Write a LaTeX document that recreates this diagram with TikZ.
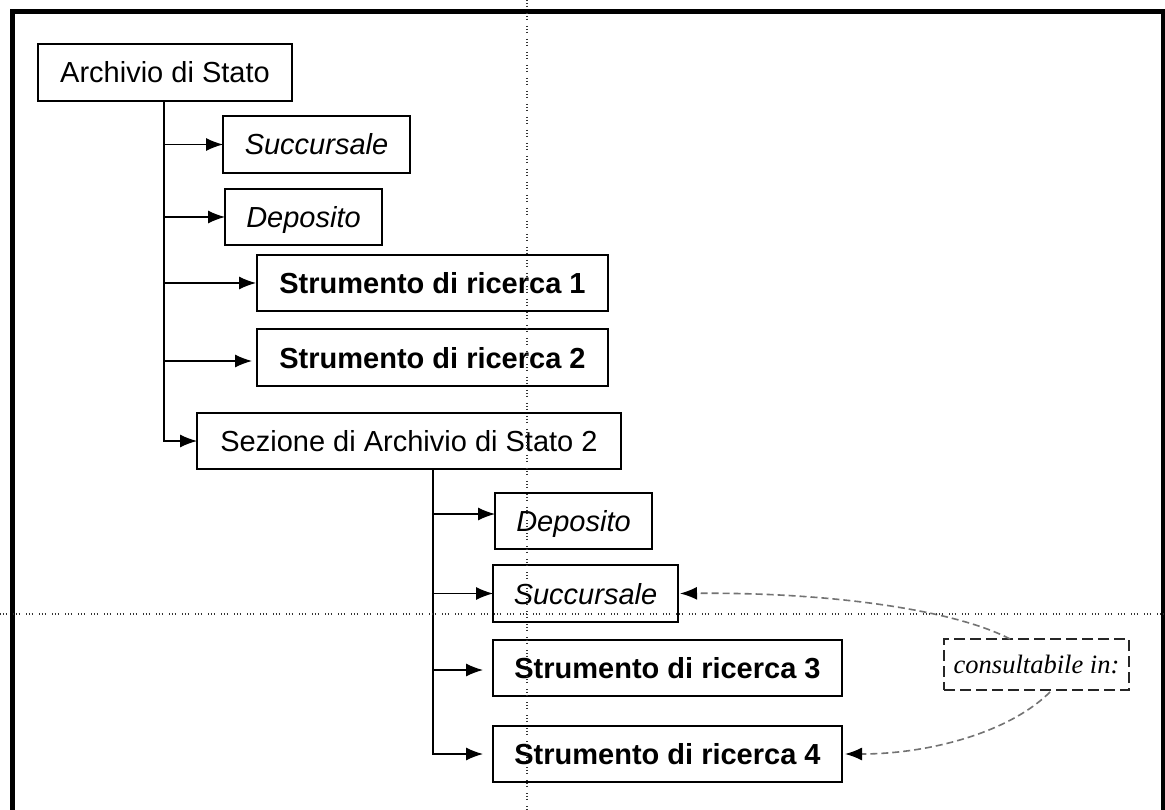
\documentclass[tikz,border=0pt]{standalone}
\usepackage{fontspec}
\setmainfont{Liberation Sans}
\newfontfamily\consfont{Liberation Serif}
\usetikzlibrary{arrows.meta}
\begin{document}
\begin{tikzpicture}[x=1pt,y=-1pt,
  box/.style={draw=black, line width=1.2pt, inner sep=0pt, outer sep=0pt,
    text height=21pt, text depth=0pt, font=\fontsize{29}{34}\selectfont},
  boxit/.style={box, font=\fontsize{29}{34}\selectfont\itshape},
  boxbf/.style={box, font=\fontsize{29}{34}\selectfont\bfseries},
  consbox/.style={draw=black!85, line width=1.2pt, dash pattern=on 11pt off 5pt,
    inner sep=0pt, outer sep=0pt, text height=17pt, text depth=0pt,
    font=\fontsize{26.5}{30}\consfont\itshape},
  conn/.style={line width=1.2pt, -{Latex[length=17pt,width=13pt]}},
  dconn/.style={line width=1.6pt, draw=black!55, dash pattern=on 7pt off 4pt,
    -{Latex[length=17pt,width=13pt,color=black,fill=black]}},
  guide/.style={line width=1.4pt, draw=black!80,
    dash pattern=on 1.4pt off 1.4pt on 1.4pt off 1.4pt on 1.4pt off 6pt},
  frameline/.style={line width=5pt, draw=black}
]
\useasboundingbox (0,0) rectangle (1165,810);
\fill[white] (0,0) rectangle (1165,810);

% frame
\draw[frameline] (12.5,815) -- (12.5,12) -- (1163,12) -- (1163,815);

% nodes
\node[box, minimum width=254pt, minimum height=57pt] (arch) at (165,72.5) {Archivio di Stato};
\node[boxit, minimum width=187pt, minimum height=57pt] (suc1) at (316.5,144.5) {Succursale};
\node[boxit, minimum width=157pt, minimum height=56pt] (dep1) at (303.5,217) {Deposito};
\node[boxbf, minimum width=351pt, minimum height=56pt] (str1) at (432.5,283) {Strumento di ricerca 1};
\node[boxbf, minimum width=351pt, minimum height=57pt] (str2) at (432.5,357.5) {Strumento di ricerca 2};
\node[box, minimum width=424pt, minimum height=56pt] (sez) at (409,441) {Sezione di Archivio di Stato 2};
\node[boxit, minimum width=157pt, minimum height=56pt] (dep2) at (573.5,521) {Deposito};
\node[boxit, minimum width=185pt, minimum height=57pt] (suc2) at (585.5,593.5) {Succursale};
\node[boxbf, minimum width=349pt, minimum height=56pt] (str3) at (667.5,668) {Strumento di ricerca 3};
\node[boxbf, minimum width=349pt, minimum height=56pt] (str4) at (667.5,754) {Strumento di ricerca 4};
\node[consbox, minimum width=185pt, minimum height=51pt] (cons) at (1036.5,664.5) {consultabile in:};

% trunk 1
\coordinate (t1) at (164,101);
\draw[conn] (t1) |- (sez.west);
\draw[conn] (t1 |- suc1.west) -- (suc1.west);
\draw[conn] (t1 |- dep1.west) -- (dep1.west);
\draw[conn, shorten >=1pt] (t1 |- str1.west) -- (str1.west);
\coordinate (s2) at (257,361);
\draw[conn, shorten >=5pt] (t1 |- s2) -- (s2);

% trunk 2
\coordinate (t2) at (433,469);
\draw[conn, shorten >=10pt] (t2) |- (str4.west);
\coordinate (d2) at (495,514);
\draw[conn] (t2 |- d2) -- (d2);
\draw[conn] (t2 |- suc2.west) -- (suc2.west);
\coordinate (s3) at (493,670);
\draw[conn, shorten >=10pt] (t2 |- s3) -- (s3);

% dashed references
\coordinate (c1) at (1010,639);
\coordinate (c2) at (1050,692);
\draw[dconn] (c1) .. controls (955,610) and (830,592) .. ([xshift=2pt]suc2.east);
\draw[dconn] (c2) .. controls (1010,732) and (930,754) .. ([xshift=3pt]str4.east);

% guide lines
\draw[guide] (527,0) -- (527,810);
\draw[guide] (0,614) -- (1165,614);
\end{tikzpicture}
\end{document}
